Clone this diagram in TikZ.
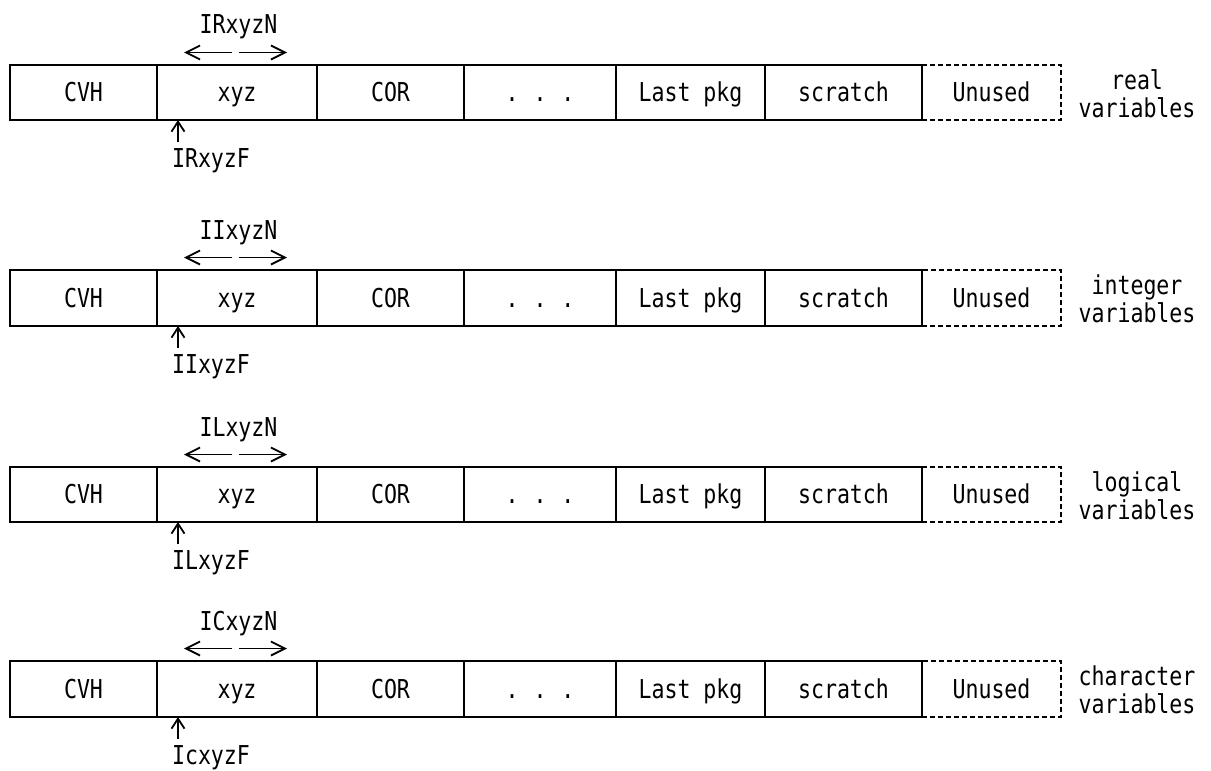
\documentclass[tikz,border=0pt]{standalone}
\usepackage{fontspec}
\newfontfamily\gothic[FakeStretch=0.83]{DejaVu Sans Mono}
\usetikzlibrary{arrows.meta}
\begin{document}
\begin{tikzpicture}[x=1pt,y=-1pt,
  every node/.style={font=\gothic\fontsize{26}{28}\selectfont},
  fixed/.style={text height=18pt, text depth=0pt},
  cell/.style={draw, fixed, line width=2.8pt, inner sep=0pt, outer sep=0pt},
  unusedcell/.style={cell, dash pattern=on 5pt off 3pt},
  lbl/.style={fixed, inner sep=0pt, outer sep=0pt},
  arr/.style={line width=1.8pt, -{Straight Barb[length=14pt,width=14pt,line width=1.8pt]}},
  uparr/.style={line width=1.8pt, -{Straight Barb[length=10pt,width=13pt,line width=1.8pt]}},
]
\useasboundingbox (0,0) rectangle (1211,771);
\foreach \r/\ya/\yb/\nn/\ff/\lab in {1/65/120/IRxyzN/IRxyzF/real, 2/270/326/IIxyzN/IIxyzF/integer, 3/467/522/ILxyzN/ILxyzF/logical, 4/661/717/ICxyzN/IcxyzF/character}{
  \pgfmathsetmacro\yc{(\ya+\yb)/2}
  \pgfmathsetmacro\hh{\yb-\ya}
  \foreach \i/\a/\b/\txt in {1/10/157/CVH, 2/157/317/xyz, 3/317/464/COR, 4/464/616/{.\hspace{15pt}.\hspace{15pt}.}, 5/616/765/Last pkg, 6/765/922/scratch}{
    \node[cell, minimum width={(\b-\a)*1pt}, minimum height={\hh*1pt}] (c\r-\i) at ({(\a+\b)/2},\yc) {\txt};
  }
  \node[unusedcell, minimum width=139pt, minimum height={\hh*1pt}] (c\r-7) at (991.5,\yc) {Unused};
  \node[align=center, inner sep=0pt] (v\r) at (1137,{\yc+1}) {\lab\\variables};
  % N label and arrows
  \node[lbl] (n\r) at (238.5,{\ya-40}) {\nn};
  \coordinate (nlt\r) at (232,{\ya-12.5});
  \coordinate (nlh\r) at (184,{\ya-12.5});
  \coordinate (nrt\r) at (239,{\ya-12.5});
  \coordinate (nrh\r) at (287,{\ya-12.5});
  \draw[arr] (nlt\r) -- (nlh\r);
  \draw[arr] (nrt\r) -- (nrh\r);
  % F label and arrow
  \coordinate (ut\r) at (178,{\yb+22});
  \draw[uparr] (ut\r) -- (ut\r |- c\r-2.south);
  \node[lbl] (f\r) at (211,{\yb+38}) {\ff};
}
\end{tikzpicture}
\end{document}
